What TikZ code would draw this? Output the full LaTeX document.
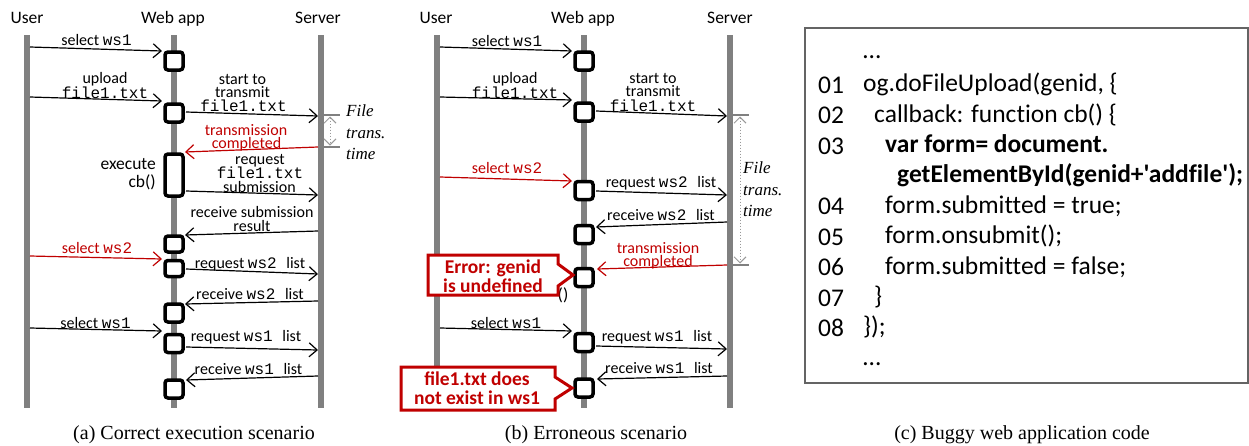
\documentclass[tikz,border=0pt]{standalone}
\usepackage{fontspec}
\setmainfont{Carlito}
\setmonofont{Liberation Mono}
\newfontfamily\tnr{Liberation Serif}
\newfontfamily\codefont{Carlito}[Ligatures=NoCommon]
\usetikzlibrary{arrows.meta}
\definecolor{lifegray}{RGB}{128,128,128}
\definecolor{errred}{RGB}{192,0,0}
\definecolor{framegray}{RGB}{100,100,100}
\begin{document}
\begin{tikzpicture}[x=1pt,y=-1pt,
  life/.style={line width=5.5pt, draw=lifegray},
  act/.style={draw=black, line width=3.5pt, rounded corners=3pt, fill=white,
    minimum width=18pt, minimum height=18pt, inner sep=0pt},
  msg/.style={line width=1.2pt, -{Straight Barb[length=8pt,width=14pt]}},
  msgred/.style={msg, draw=errred},
  lbl/.style={font=\fontsize{16}{16}\selectfont, inner sep=0pt, text height=12pt, text depth=0pt},
  lblred/.style={lbl, text=errred},
  mono/.style={lbl, font=\ttfamily\fontsize{16}{16}\selectfont},
  biglbl/.style={lbl, font=\fontsize{17.5}{17.5}\selectfont, anchor=east},
  head/.style={font=\fontsize{17.5}{17.5}\selectfont, inner sep=0pt, text height=13pt, text depth=0pt},
  note/.style={font=\tnr\itshape\fontsize{17}{17}\selectfont, inner sep=0pt, anchor=west, text height=12pt, text depth=0pt},
  brk/.style={draw=lifegray, line width=1.5pt},
  durarrow/.style={draw=lifegray!80, line width=1pt, dotted,
    {Straight Barb[length=6pt,width=12pt]}-{Straight Barb[length=6pt,width=12pt]}},
  errbox/.style={draw=errred, line width=3pt, fill=white, line join=miter},
  errtxt/.style={font=\bfseries\fontsize{19.5}{19.5}\selectfont, text=errred, inner sep=0pt, text height=14pt, text depth=0pt},
  codeline/.style={font=\codefont\fontsize{25.5}{25.5}\selectfont, anchor=west, inner sep=0pt, text height=17pt, text depth=0pt},
  codebold/.style={codeline, font=\codefont\bfseries\fontsize{25.5}{25.5}\selectfont},
  captext/.style={font=\tnr\fontsize{20}{20}\selectfont, inner sep=0pt, text height=14pt, text depth=0pt}
]
\useasboundingbox (0,0) rectangle (1249,445);
\fill[white] (0,0) rectangle (1249,445);

% ---------------- (a) correct execution ----------------
\node[head] (ua) at (27,17) {User};
\node[head] (wa) at (173,17) {Web app};
\node[head] (sa) at (318,17) {Server};
\draw[life] (27,35) -- (27,408);
\draw[life] (174,35) -- (174,408);
\draw[life] (321,35) -- (321,408);

\node[act] (a1) at (174,61) {};
\node[act] (a2) at (174,113) {};
\node[act, minimum height=42pt] (a3) at (174,175) {};
\node[act, minimum height=16pt] (a4) at (174,244) {};
\node[act, minimum height=16pt] (a5) at (174,268.5) {};
\node[act] (a6) at (174,313) {};
\node[act] (a7) at (174,343.5) {};
\node[act] (a8) at (174,389) {};

\coordinate (pa1) at (30,47);   \coordinate (qa1) at (162,51);
\coordinate (pa2) at (30,97);   \coordinate (qa2) at (162,101);
\coordinate (pa3) at (186,112); \coordinate (qa3) at (318,116);
\coordinate (pa4) at (318,147); \coordinate (qa4) at (185,152);
\coordinate (pa5) at (186,191); \coordinate (qa5) at (318,195);
\coordinate (pa6) at (318,231); \coordinate (qa6) at (185,235);
\coordinate (pa7) at (30,256);  \coordinate (qa7) at (162,259);
\coordinate (pa8) at (186,269); \coordinate (qa8) at (318,274);
\coordinate (pa9) at (318,301); \coordinate (qa9) at (185,304);
\coordinate (pa10) at (30,328); \coordinate (qa10) at (162,331);
\coordinate (pa11) at (186,347); \coordinate (qa11) at (318,350);
\coordinate (pa12) at (318,376); \coordinate (qa12) at (186,380);

\draw[msg] (pa1) -- (qa1);
\draw[msg] (pa2) -- (qa2);
\draw[msg] (pa3) -- (qa3);
\draw[msgred] (pa4) -- (qa4);
\draw[msg] (pa5) -- (qa5);
\draw[msg] (pa6) -- (qa6);
\draw[msgred] (pa7) -- (qa7);
\draw[msg] (pa8) -- (qa8);
\draw[msg] (pa9) -- (qa9);
\draw[msg] (pa10) -- (qa10);
\draw[msg] (pa11) -- (qa11);
\draw[msg] (pa12) -- (qa12);

\node[lbl] (la1) at (96.5,39) {select \texttt{ws1}};
\node[lbl] (la2) at (105,77) {upload};
\node[mono] (la2b) at (105,92.5) {file1.txt};
\node[lbl] (la3) at (242.5,78.5) {start to};
\node[lbl] (la3b) at (242.5,91.5) {transmit};
\node[mono] (la3c) at (243.5,105.5) {file1.txt};
\node[lblred] (la4) at (246,129) {transmission};
\node[lblred] (la4b) at (246.5,142) {completed};
\node[biglbl] (lex) at (156,163) {execute};
\node[biglbl] (lcb) at (156,181.5) {cb()};
\node[lbl] (la5) at (260,158) {request};
\node[mono] (la5b) at (260,172) {file1.txt};
\node[lbl] (la5c) at (259.5,186) {submission};
\node[lbl] (la6) at (252,211) {receive submission};
\node[lbl] (la6b) at (252,225.5) {result};
\node[lblred] (la7) at (97,247) {select \texttt{ws2}};
\node[lbl] (la8) at (250,262) {request \texttt{ws2\ }list};
\node[lbl] (la9) at (250,293) {receive \texttt{ws2\ }list};
\node[lbl] (la10) at (95.5,322) {select \texttt{ws1}};
\node[lbl] (la11) at (246,335) {request \texttt{ws1\ }list};
\node[lbl] (la12) at (248.5,368) {receive \texttt{ws1\ }list};

% transfer duration marker
\coordinate (ta0) at (323,115); \coordinate (ta1) at (340,115);
\coordinate (tb0) at (323,147); \coordinate (tb1) at (340,147);
\draw[brk] (ta0) -- (ta1);
\draw[brk] (tb0) -- (tb1);
\coordinate (ts) at (330,116.5); \coordinate (te) at (330,145.5);
\draw[durarrow] (ts) -- (te);
\node[note] (fa1) at (346,110) {File};
\node[note] (fa2) at (346,132) {trans.};
\node[note] (fa3) at (346,153) {time};

\node[captext] (capa) at (194,432) {(a) Correct execution scenario};

% ---------------- (b) erroneous scenario ----------------
\node[head] (ub) at (436,17) {User};
\node[head] (wb) at (583,17) {Web app};
\node[head] (sb) at (730,17) {Server};
\draw[life] (437,35) -- (437,408);
\draw[life] (584,35) -- (584,408);
\draw[life] (730,35) -- (730,408);

\node[act] (b1) at (584,61) {};
\node[act] (b2) at (584,112) {};
\node[act] (b3) at (584,190.5) {};
\node[act] (b4) at (584,234.5) {};
\node[act] (b5) at (584,277.5) {};
\node[act] (b6) at (584,342.5) {};
\node[act] (b7) at (584,388) {};

\coordinate (pb1) at (440,47);   \coordinate (qb1) at (572,51);
\coordinate (pb2) at (440,97);   \coordinate (qb2) at (572,100);
\coordinate (pb3) at (596,111);  \coordinate (qb3) at (727,116);
\coordinate (pb4) at (440,177);  \coordinate (qb4) at (572,181);
\coordinate (pb5) at (596,191);  \coordinate (qb5) at (727,195);
\coordinate (pb6) at (727,222);  \coordinate (qb6) at (596,227);
\coordinate (pb7) at (727,265);  \coordinate (qb7) at (597,269);
\coordinate (pb8) at (440,328);  \coordinate (qb8) at (572,331);
\coordinate (pb9) at (596,346);  \coordinate (qb9) at (727,349);
\coordinate (pb10) at (727,376); \coordinate (qb10) at (597,379);

\draw[msg] (pb1) -- (qb1);
\draw[msg] (pb2) -- (qb2);
\draw[msg] (pb3) -- (qb3);
\draw[msgred] (pb4) -- (qb4);
\draw[msg] (pb5) -- (qb5);
\draw[msg] (pb6) -- (qb6);
\draw[msgred] (pb7) -- (qb7);
\draw[msg] (pb8) -- (qb8);
\draw[msg] (pb9) -- (qb9);
\draw[msg] (pb10) -- (qb10);

\node[lbl] (lb1) at (507,40) {select \texttt{ws1}};
\node[lbl] (lb2) at (515,77) {upload};
\node[mono] (lb2b) at (515,92.5) {file1.txt};
\node[lbl] (lb3) at (653,77.5) {start to};
\node[lbl] (lb3b) at (653,90.5) {transmit};
\node[mono] (lb3c) at (653,105) {file1.txt};
\node[lblred] (lb4) at (507,167) {select \texttt{ws2}};
\node[lbl] (lb5) at (661,181) {request \texttt{ws2\ }list};
\node[lbl] (lb6) at (661,214) {receive \texttt{ws2\ }list};
\node[lblred] (lb7) at (658,247) {transmission};
\node[lblred] (lb7b) at (658,260) {completed};
\node[lbl] (lb8) at (506,322) {select \texttt{ws1}};
\node[lbl] (lb9) at (657,335) {request \texttt{ws1\ }list};
\node[lbl] (lb10) at (659,367) {receive \texttt{ws1\ }list};
\node[lbl, font=\fontsize{17.5}{17.5}\selectfont] (lpar) at (563,294) {()};

\coordinate (tc0) at (733,115); \coordinate (tc1) at (749,115);
\coordinate (td0) at (733,265); \coordinate (td1) at (749,265);
\draw[brk] (tc0) -- (tc1);
\draw[brk] (td0) -- (td1);
\coordinate (us) at (740,116.5); \coordinate (ue) at (740,263.5);
\draw[durarrow] (us) -- (ue);
\node[note] (fb1) at (743,167) {File};
\node[note] (fb2) at (743,189) {trans.};
\node[note] (fb3) at (743,210) {time};

% error callouts
\draw[errbox] (428,255) -- (558,255) -- (558,264) -- (573,275) -- (558,286)
  -- (558,295) -- (428,295) -- cycle;
\node[errtxt] (e1a) at (493,266) {Error: genid};
\node[errtxt] (e1b) at (493,285) {is undefined};

\draw[errbox] (401,367) -- (555,367) -- (555,377) -- (572,388) -- (555,399)
  -- (555,410) -- (401,410) -- cycle;
\node[errtxt] (e2a) at (477,378) {file1.txt does};
\node[errtxt] (e2b) at (477,397) {not exist in ws1};

\node[captext] (capb) at (596,432) {(b) Erroneous scenario};

% ---------------- (c) buggy code ----------------
\draw[draw=framegray, line width=1.3pt] (805,28) rectangle (1248,383);

\node[codeline] (n01) at (818,84.7) {01};
\node[codeline] (n02) at (818,115.1) {02};
\node[codeline] (n03) at (818,145.5) {03};
\node[codeline] (n04) at (818,206.3) {04};
\node[codeline] (n05) at (818,236.7) {05};
\node[codeline] (n06) at (818,267.1) {06};
\node[codeline] (n07) at (818,297.5) {07};
\node[codeline] (n08) at (818,327.9) {08};

\node[codeline] (c00) at (863,50) {…};
\node[codeline] (c01) at (863,83.2) {og.doFileUpload(genid, \{};
\node[codeline] (c02) at (874,113.6) {callback: function cb() \{};
\node[codebold] (c03) at (885,144) {var form= document.};
\node[codebold] (c03b) at (897,174.4) {getElementById(genid+'addfile');};
\node[codeline] (c04) at (885,204.8) {form.submitted = true;};
\node[codeline] (c05) at (885,235.2) {form.onsubmit();};
\node[codeline] (c06) at (885,265.6) {form.submitted = false;};
\node[codeline] (c07) at (874,296) {\}};
\node[codeline] (c08) at (863,326.4) {\});};
\node[codeline] (c09) at (863,356.8) {…};

\node[captext] (capc) at (1022,432) {(c) Buggy web application code};
\end{tikzpicture}
\end{document}
